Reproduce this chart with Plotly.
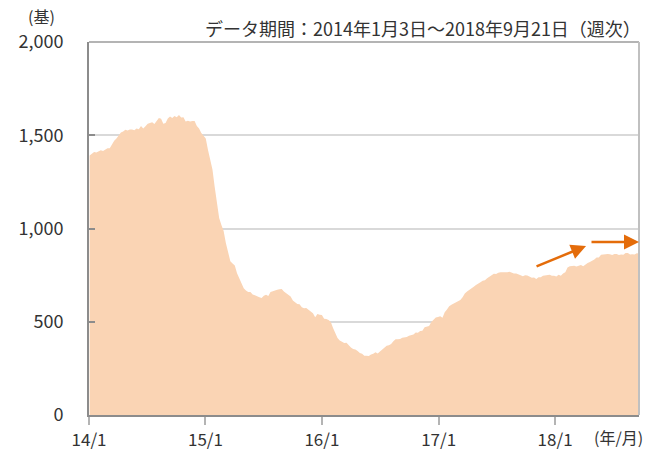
import pandas as pd
import plotly.graph_objects as go

# Weekly US oil rig counts (units: 基), Fridays from 2014-01-03 to 2018-09-21
rigs_2014 = [1391, 1403, 1410, 1407, 1414, 1420, 1416, 1424, 1430, 1430,
             1452, 1471, 1483, 1500, 1515, 1520, 1530, 1526, 1531, 1531,
             1527, 1536, 1532, 1549, 1536, 1548, 1562, 1566, 1570, 1560,
             1574, 1592, 1588, 1562, 1566, 1590, 1600, 1592, 1603, 1597,
             1609, 1595, 1597, 1574, 1578, 1574, 1576, 1576, 1550, 1536,
             1512, 1499]
rigs_2015 = [1482, 1421, 1366, 1317, 1223, 1140, 1056, 1019, 986, 922,
             866, 825, 813, 802, 760, 734, 703, 679, 668, 660,
             659, 646, 642, 635, 631, 628, 640, 645, 638, 659,
             664, 670, 672, 674, 675, 662, 652, 644, 636, 614,
             605, 595, 594, 578, 572, 574, 564, 555, 545, 524,
             541, 538]
rigs_2016 = [536, 516, 515, 510, 498, 467, 439, 413, 400, 392,
             386, 387, 372, 362, 354, 351, 343, 332, 328, 318,
             318, 316, 325, 328, 337, 330, 341, 351, 357, 371,
             374, 381, 396, 406, 406, 407, 414, 416, 418, 425,
             428, 432, 443, 441, 450, 452, 471, 474, 477, 498,
             510, 523, 525]
rigs_2017 = [529, 522, 551, 566, 583, 591, 597, 602, 609, 617,
             631, 652, 662, 672, 683, 688, 697, 703, 712, 720,
             722, 733, 741, 747, 758, 756, 763, 765, 764, 766,
             765, 768, 763, 759, 759, 756, 749, 744, 750, 748,
             743, 736, 737, 729, 738, 738, 747, 749, 751, 752,
             747, 747]
rigs_2018 = [742, 752, 747, 759, 765, 791, 798, 799, 800, 796,
             800, 804, 797, 808, 815, 820, 825, 834, 844, 844,
             859, 861, 862, 863, 862, 858, 863, 863, 858, 861,
             859, 869, 869, 860, 862, 860, 867, 866]

rigs = rigs_2014 + rigs_2015 + rigs_2016 + rigs_2017 + rigs_2018
dates = pd.date_range("2014-01-03", "2018-09-21", freq="W-FRI")
assert len(dates) == len(rigs)

x_tick_vals = ["2014-01-01", "2015-01-01", "2016-01-01", "2017-01-01", "2018-01-01"]
x_tick_text = ["14/1", "15/1", "16/1", "17/1", "18/1"]
y_tick_vals = [0, 500, 1000, 1500, 2000]

FONT = "Noto Sans CJK JP"
TXT = "#333333"
ORANGE = "#E46C0A"

fig = go.Figure()
fig.add_trace(go.Scatter(
    x=dates, y=rigs, mode="lines", fill="tozeroy",
    line=dict(width=0, color="#FAD4B4"), fillcolor="#FAD4B4",
    hoverinfo="skip", showlegend=False,
))

fig.update_layout(
    width=662, height=450,
    margin=dict(l=89, r=23, t=42, b=35, autoexpand=False),
    paper_bgcolor="white", plot_bgcolor="white",
    font=dict(family=FONT, size=18, color=TXT),
    showlegend=False,
    xaxis=dict(
        range=["2014-01-01", "2018-09-21"],
        tickvals=x_tick_vals, ticktext=x_tick_text,
        showgrid=False, zeroline=False, automargin=False,
        showline=True, linecolor="#8C8C8C", linewidth=2,
        ticks="outside", ticklen=8, tickwidth=1.5, tickcolor="#B4B4B4",
        ticklabelstandoff=1,
        tickfont=dict(family=FONT, size=17, color=TXT),
    ),
    yaxis=dict(
        range=[0, 2000], tickvals=y_tick_vals, tickformat=",",
        showgrid=True, gridcolor="#D9D9D9", gridwidth=1.5,
        zeroline=False, automargin=False,
        showline=True, linecolor="#8C8C8C", linewidth=2,
        ticks="inside", ticklen=6, tickwidth=1.5, tickcolor="#8C8C8C",
        ticklabelstandoff=20,
        tickfont=dict(family=FONT, size=18, color=TXT),
    ),
)

# top and right frame lines
fig.add_shape(type="line", xref="paper", yref="paper", x0=0, x1=1, y0=1, y1=1,
              line=dict(color="#B4B4B4", width=2))
fig.add_shape(type="line", xref="paper", yref="paper", x0=1, x1=1, y0=0, y1=1,
              line=dict(color="#C0C0C0", width=2))

fig.add_annotation(text="(基)", xref="paper", yref="paper", x=-0.087, y=1.07,
                   showarrow=False, xanchor="center", yanchor="middle",
                   font=dict(family=FONT, size=16, color=TXT))
fig.add_annotation(text="データ期間：2014年1月3日～2018年9月21日（週次）",
                   xref="paper", yref="paper", x=1.008, y=1.0375,
                   showarrow=False, xanchor="right", yanchor="middle",
                   font=dict(family=FONT, size=18, color=TXT))
fig.add_annotation(text="(年/月)", xref="paper", yref="paper", x=0.962, y=-0.058,
                   showarrow=False, xanchor="center", yanchor="middle",
                   font=dict(family=FONT, size=16, color=TXT))

# arrows
fig.add_annotation(x="2018-04-08", y=906, xref="x", yref="y",
                   ax=-51, ay=21, axref="pixel", ayref="pixel",
                   showarrow=True, arrowhead=2, arrowsize=1.2, arrowwidth=2.5,
                   arrowcolor=ORANGE, text="", standoff=0)
fig.add_annotation(x="2018-09-21", y=928, xref="x", yref="y",
                   ax=-49, ay=0, axref="pixel", ayref="pixel",
                   showarrow=True, arrowhead=2, arrowsize=1.2, arrowwidth=2.5,
                   arrowcolor=ORANGE, text="", standoff=0)

fig.write_html("out.html", config={"displayModeBar": False},
               post_script="document.body.style.margin='0';")
